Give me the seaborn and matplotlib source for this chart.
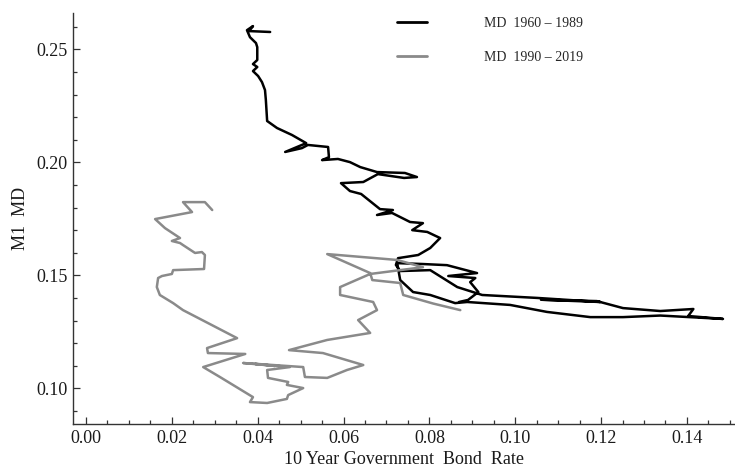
import matplotlib
matplotlib.use("Agg")
import matplotlib.pyplot as plt
import pandas as pd
import seaborn as sns
from matplotlib.ticker import MultipleLocator, FixedLocator, FormatStrFormatter

# 10-year government bond rate vs. M1 money demand, 1960-1989
rate_1960_1989 = [
    0.0429, 0.0380, 0.0389, 0.0375, 0.0382, 0.0396, 0.0399, 0.0399, 0.0389, 0.0399,
    0.0389, 0.0401, 0.0410, 0.0417, 0.0419, 0.0422, 0.0445, 0.0480, 0.0513, 0.0464,
    0.0503, 0.0517, 0.0564, 0.0566, 0.0550, 0.0587, 0.0615, 0.0639, 0.0678, 0.0743,
    0.0771, 0.0741, 0.0680, 0.0646, 0.0594, 0.0615, 0.0641, 0.0685, 0.0715, 0.0678,
    0.0713, 0.0755, 0.0785, 0.0760, 0.0795, 0.0825, 0.0802, 0.0774, 0.0727, 0.0722,
    0.0732, 0.0802, 0.0865, 0.0923, 0.1051, 0.1198, 0.1060, 0.1190, 0.1251, 0.1338,
    0.1415, 0.1403, 0.1484, 0.1338, 0.1251, 0.1175, 0.1074, 0.0988, 0.0888, 0.0860,
    0.0802, 0.0762, 0.0732, 0.0727, 0.0725, 0.0785, 0.0841, 0.0911, 0.0844, 0.0907,
    0.0895, 0.0914, 0.0890, 0.0869,
]
md_1960_1989 = [
    0.2577, 0.2581, 0.2603, 0.2585, 0.2554, 0.2528, 0.2510, 0.2453, 0.2435, 0.2422,
    0.2404, 0.2382, 0.2355, 0.2320, 0.2276, 0.2183, 0.2152, 0.2121, 0.2085, 0.2046,
    0.2063, 0.2077, 0.2068, 0.2023, 0.2010, 0.2015, 0.2001, 0.1979, 0.1957, 0.1953,
    0.1935, 0.1931, 0.1948, 0.1913, 0.1908, 0.1873, 0.1860, 0.1793, 0.1789, 0.1767,
    0.1776, 0.1736, 0.1731, 0.1700, 0.1692, 0.1665, 0.1621, 0.1590, 0.1576, 0.1546,
    0.1519, 0.1523, 0.1448, 0.1413, 0.1400, 0.1382, 0.1392, 0.1386, 0.1355, 0.1342,
    0.1351, 0.1320, 0.1307, 0.1322, 0.1315, 0.1315, 0.1338, 0.1369, 0.1382, 0.1377,
    0.1413, 0.1426, 0.1479, 0.1532, 0.1554, 0.1550, 0.1545, 0.1510, 0.1497, 0.1488,
    0.1470, 0.1426, 0.1391, 0.1382,
]

# 10-year government bond rate vs. M1 money demand, 1990-2019
rate_1990_2019 = [
    0.0872, 0.0809, 0.0739, 0.0732, 0.0667, 0.0662, 0.0562, 0.0725, 0.0785, 0.0662,
    0.0592, 0.0592, 0.0669, 0.0678, 0.0634, 0.0662, 0.0562, 0.0473, 0.0552, 0.0646,
    0.0608, 0.0562, 0.0510, 0.0506, 0.0366, 0.0440, 0.0394, 0.0475, 0.0422, 0.0424,
    0.0471, 0.0468, 0.0506, 0.0471, 0.0468, 0.0422, 0.0382, 0.0389, 0.0312, 0.0273,
    0.0371, 0.0284, 0.0282, 0.0352, 0.0226, 0.0203, 0.0172, 0.0165, 0.0168, 0.0177,
    0.0200, 0.0203, 0.0275, 0.0277, 0.0270, 0.0254, 0.0226, 0.0219, 0.0200, 0.0219,
    0.0184, 0.0161, 0.0247, 0.0226, 0.0277, 0.0294,
]
md_1990_2019 = [
    0.1346, 0.1375, 0.1413, 0.1466, 0.1479, 0.1510, 0.1594, 0.1568, 0.1536, 0.1506,
    0.1448, 0.1413, 0.1382, 0.1346, 0.1302, 0.1245, 0.1214, 0.1169, 0.1156, 0.1103,
    0.1081, 0.1046, 0.1050, 0.1094, 0.1112, 0.1099, 0.1108, 0.1094, 0.1081, 0.1046,
    0.1028, 0.1015, 0.1001, 0.0970, 0.0953, 0.0935, 0.0939, 0.0961, 0.1050, 0.1094,
    0.1152, 0.1156, 0.1178, 0.1222, 0.1346, 0.1377, 0.1413, 0.1448, 0.1488, 0.1497,
    0.1506, 0.1523, 0.1528, 0.1590, 0.1603, 0.1599, 0.1634, 0.1643, 0.1652, 0.1665,
    0.1709, 0.1749, 0.1780, 0.1824, 0.1824, 0.1789,
]

period_labels = ["MD  1960 \u2013 1989", "MD  1990 \u2013 2019"]
period_colors = ["#000000", "#8a8a8a"]
x_ticks = [0.00, 0.02, 0.04, 0.06, 0.08, 0.10, 0.12, 0.14]
y_ticks = [0.10, 0.15, 0.20, 0.25]
x_label = "10 Year Government  Bond  Rate"
y_label = "M1  MD"

df = pd.concat([
    pd.DataFrame({"rate": rate_1960_1989, "md": md_1960_1989, "period": period_labels[0]}),
    pd.DataFrame({"rate": rate_1990_2019, "md": md_1990_2019, "period": period_labels[1]}),
], ignore_index=True)

sns.set_style("ticks")
plt.rcParams["font.family"] = ["Liberation Serif", "DejaVu Serif"]

fig = plt.figure(figsize=(7.35, 4.74), dpi=100)
ax = fig.add_axes([73 / 735, 50 / 474, 662 / 735, 411 / 474])

sns.lineplot(data=df, x="rate", y="md", hue="period", hue_order=period_labels,
             palette=period_colors, sort=False, estimator=None, linewidth=1.8,
             legend=False, ax=ax)

ax.set_xlim(-0.00303, 0.1512)
ax.set_ylim(0.0842, 0.2661)

ax.xaxis.set_major_locator(FixedLocator(x_ticks))
ax.xaxis.set_minor_locator(MultipleLocator(0.005))
ax.yaxis.set_major_locator(FixedLocator(y_ticks))
ax.yaxis.set_minor_locator(MultipleLocator(0.01))
ax.xaxis.set_major_formatter(FormatStrFormatter("%.2f"))
ax.yaxis.set_major_formatter(FormatStrFormatter("%.2f"))

axis_color = "#333333"
for side in ("top", "right"):
    ax.spines[side].set_visible(False)
for side in ("left", "bottom"):
    ax.spines[side].set_color(axis_color)
    ax.spines[side].set_linewidth(1.0)

ax.tick_params(which="both", direction="in", color=axis_color, width=0.9)
ax.tick_params(which="major", length=5, labelsize=13, labelcolor="#1a1a1a", pad=4)
ax.tick_params(which="minor", length=2.8)

ax.set_xlabel(x_label, fontsize=13, color="#1a1a1a", labelpad=3)
ax.set_ylabel(y_label, fontsize=13, color="#1a1a1a", labelpad=5)

leg = ax.legend(handles=list(ax.lines), labels=period_labels, frameon=False,
                loc="upper left", bbox_to_anchor=(397 / 735, 1 - 17 / 474),
                bbox_transform=fig.transFigure, fontsize=10,
                handlelength=2.15, handletextpad=4.1, labelspacing=1.5,
                borderpad=0, borderaxespad=0)
for line in leg.get_lines():
    line.set_linewidth(2.0)

fig.savefig("out.png", dpi=100)
